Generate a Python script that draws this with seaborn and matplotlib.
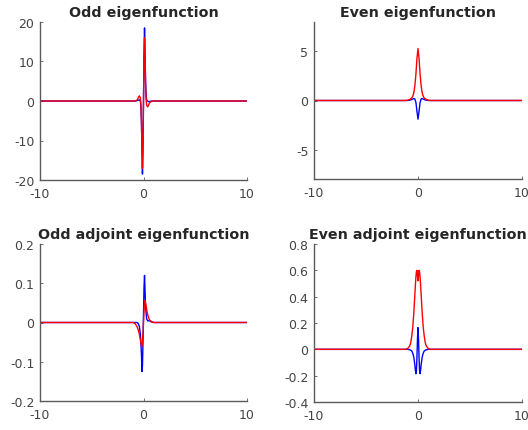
import matplotlib
matplotlib.use("Agg")
import matplotlib.pyplot as plt
import seaborn as sns

# ---------------- data ----------------
# Panel 1: Odd eigenfunction
x_odd = [-10, -1.0, -0.8, -0.6, -0.5, -0.4, -0.3, -0.25, -0.2, -0.15, -0.1, -0.05,
         0, 0.05, 0.1, 0.15, 0.2, 0.25, 0.3, 0.4, 0.5, 0.6, 0.8, 1.0, 10]
odd_blue = [0, 0, 0, 0.1, 0.2, 0.3, 0, -1.5, -5, -12, -18.5, -12,
            0, 12, 18.5, 12, 5, 1.5, 0.3, 0, -0.2, -0.1, 0, 0, 0]
odd_red = [0, 0, 0, 0.3, 0.9, 1.3, 0.8, -1, -5, -12, -17, -11,
           0, 11, 16, 11, 4, 0.5, -1, -1.5, -1, -0.4, 0, 0, 0]

# Panel 2: Even eigenfunction
x_even = [-10, -1.2, -1.0, -0.8, -0.6, -0.5, -0.4, -0.3, -0.2, -0.1, 0,
          0.1, 0.2, 0.3, 0.4, 0.5, 0.6, 0.8, 1.0, 1.2, 10]
even_blue = [0, 0, 0, 0.03, 0.1, 0.15, 0.2, 0.15, -0.2, -1.1, -1.9,
             -1.1, -0.2, 0.15, 0.2, 0.15, 0.1, 0.03, 0, 0, 0]
even_red = [0, 0, 0.03, 0.1, 0.25, 0.45, 0.8, 1.5, 2.7, 4.3, 5.3,
            4.3, 2.7, 1.5, 0.8, 0.45, 0.25, 0.1, 0.03, 0, 0]

# Panel 3: Odd adjoint eigenfunction
x_oadj = [-10, -1.0, -0.8, -0.6, -0.5, -0.4, -0.3, -0.2, -0.15, -0.1, -0.05,
          0, 0.05, 0.1, 0.15, 0.2, 0.3, 0.4, 0.5, 0.6, 0.8, 1.0, 10]
oadj_blue = [0, 0, 0, 0, -0.003, -0.01, -0.03, -0.08, -0.125, -0.11, -0.05,
             0.02, 0.09, 0.12, 0.08, 0.04, 0.01, 0.004, 0.005, 0.004, 0.001, 0, 0]
oadj_red = [0, 0, -0.003, -0.012, -0.02, -0.03, -0.045, -0.058, -0.06, -0.05, -0.028,
            0, 0.03, 0.052, 0.056, 0.05, 0.035, 0.02, 0.012, 0.006, 0.002, 0, 0]

# Panel 4: Even adjoint eigenfunction
x_eadj = [-10, -1.2, -1.0, -0.8, -0.7, -0.6, -0.5, -0.4, -0.3, -0.25, -0.2, -0.15, -0.1, -0.05,
          0, 0.05, 0.1, 0.15, 0.2, 0.25, 0.3, 0.4, 0.5, 0.6, 0.7, 0.8, 1.0, 1.2, 10]
eadj_blue = [0, 0, 0, -0.003, -0.007, -0.012, -0.03, -0.06, -0.12, -0.16, -0.185, -0.16, -0.06, 0.08,
             0.165, 0.08, -0.06, -0.16, -0.185, -0.16, -0.12, -0.06, -0.03, -0.012, -0.007, -0.003, 0, 0, 0]
eadj_red = [0, 0, 0.005, 0.025, 0.05, 0.1, 0.17, 0.28, 0.42, 0.49, 0.55, 0.59, 0.6, 0.56,
            0.52, 0.56, 0.6, 0.59, 0.55, 0.49, 0.42, 0.28, 0.17, 0.1, 0.05, 0.025, 0.005, 0, 0]

titles = ["Odd eigenfunction", "Even eigenfunction",
          "Odd adjoint eigenfunction", "Even adjoint eigenfunction"]
x_ticks = [-10, 0, 10]
y_ticks = [[-20, -10, 0, 10, 20], [-5, 0, 5],
           [-0.2, -0.1, 0, 0.1, 0.2], [-0.4, -0.2, 0, 0.2, 0.4, 0.6, 0.8]]
y_limits = [(-20, 20), (-8, 8), (-0.2, 0.2), (-0.4, 0.8)]

# ---------------- plotting ----------------
sns.set_style("ticks")
plt.rcParams['font.family'] = ['DejaVu Sans']
plt.rcParams['axes.unicode_minus'] = False

W, H = 528, 431
fig = plt.figure(figsize=(W / 100, H / 100), dpi=100)

boxes = [(40, 247, 23, 181), (314, 522, 23, 180),
         (40, 247, 245, 402), (314, 522, 245, 403)]
series = [(x_odd, odd_blue, odd_red), (x_even, even_blue, even_red),
          (x_oadj, oadj_blue, oadj_red), (x_eadj, eadj_blue, eadj_red)]

spine_gray = "#5a5a5a"
label_gray = "#444444"
for i, ((l, r, t, b), (xs, yb, yr)) in enumerate(zip(boxes, series)):
    ax = fig.add_axes([l / W, 1 - b / H, (r - l) / W, (b - t) / H])
    sns.lineplot(x=xs, y=yb, color=(0, 0, 1), linewidth=1.0, ax=ax, sort=False)
    sns.lineplot(x=xs, y=yr, color=(1, 0, 0), linewidth=1.0, ax=ax, sort=False)
    ax.set_xlim(-10, 10)
    ax.set_ylim(*y_limits[i])
    ax.set_xticks(x_ticks)
    ax.set_yticks(y_ticks[i])
    ax.set_xticklabels([str(v) for v in x_ticks])
    ax.set_yticklabels([("%g" % v) for v in y_ticks[i]])
    for s in ["top", "right"]:
        ax.spines[s].set_visible(False)
    for s in ["left", "bottom"]:
        ax.spines[s].set_color(spine_gray)
        ax.spines[s].set_linewidth(1.0)
    ax.tick_params(direction="in", length=2.5, width=0.6, colors=spine_gray,
                   labelsize=9, labelcolor=label_gray)
    ax.tick_params(axis="y", pad=4)
    ax.tick_params(axis="x", pad=5)
    ax.set_title(titles[i], fontsize=10.3, fontweight="bold", pad=4)

fig.savefig("out.png", dpi=100)
